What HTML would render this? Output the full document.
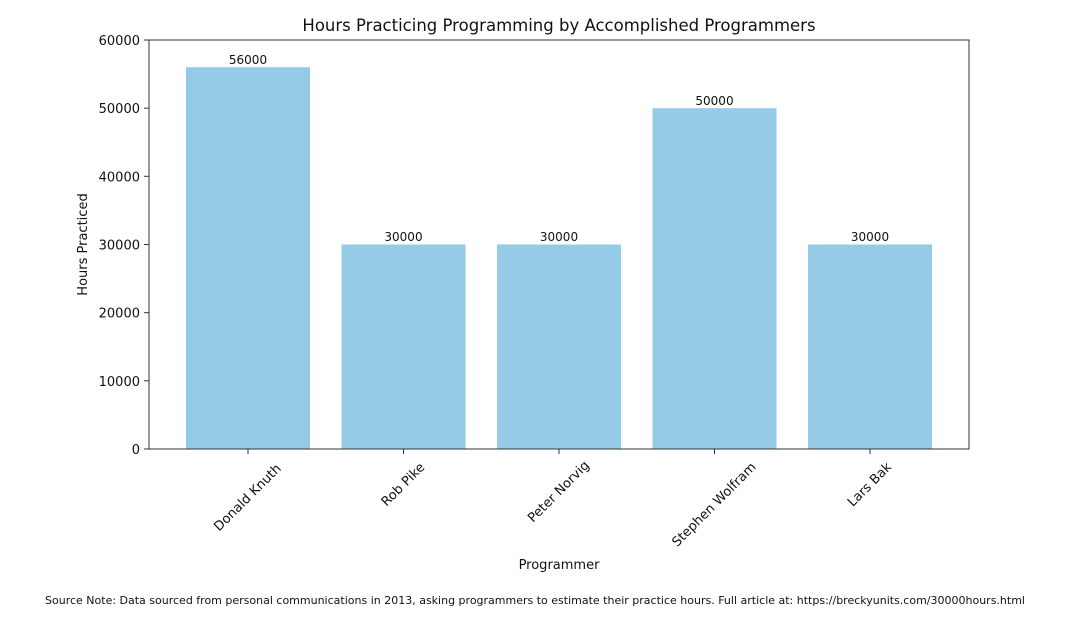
<!DOCTYPE html>
<html><head><meta charset="utf-8"><style>
body{margin:0;background:#fff}
svg{display:block;font-family:"DejaVu Sans","Liberation Sans",sans-serif}
</style></head><body>
<svg width="1068" height="638" viewBox="0 0 1068 638">
<rect width="1068" height="638" fill="#fff"/>
<text x="559" y="31" font-size="16.5" text-anchor="middle" fill="#111">Hours Practicing Programming by Accomplished Programmers</text>
<g fill="#95cbe6">
<rect x="186" y="67.2" width="124" height="381.8"/>
<rect x="341.5" y="244.5" width="124" height="204.5"/>
<rect x="497" y="244.5" width="124" height="204.5"/>
<rect x="652.5" y="108.2" width="124" height="340.8"/>
<rect x="808" y="244.5" width="124" height="204.5"/>
</g>
<g font-size="12" text-anchor="middle" fill="#111">
<text x="248" y="64">56000</text>
<text x="403.5" y="241">30000</text>
<text x="559" y="241">30000</text>
<text x="714.5" y="105">50000</text>
<text x="870" y="241">30000</text>
</g>
<rect x="149" y="40" width="820" height="409" fill="none" stroke="#333" stroke-width="1"/>
<g stroke="#333" stroke-width="1">
<line x1="144" y1="449" x2="149" y2="449"/><line x1="144" y1="380.8" x2="149" y2="380.8"/>
<line x1="144" y1="312.7" x2="149" y2="312.7"/><line x1="144" y1="244.5" x2="149" y2="244.5"/>
<line x1="144" y1="176.3" x2="149" y2="176.3"/><line x1="144" y1="108.2" x2="149" y2="108.2"/>
<line x1="144" y1="40" x2="149" y2="40"/>
<line x1="248" y1="449" x2="248" y2="454"/><line x1="403.5" y1="449" x2="403.5" y2="454"/>
<line x1="559" y1="449" x2="559" y2="454"/><line x1="714.5" y1="449" x2="714.5" y2="454"/>
<line x1="870" y1="449" x2="870" y2="454"/>
</g>
<g font-size="13" text-anchor="end" fill="#111">
<text x="140" y="454">0</text><text x="140" y="385.8">10000</text>
<text x="140" y="317.7">20000</text><text x="140" y="249.5">30000</text>
<text x="140" y="181.3">40000</text><text x="140" y="113.2">50000</text>
<text x="140" y="45">60000</text>
</g>
<g font-size="13" text-anchor="middle" fill="#111" dominant-baseline="central">
<text transform="translate(248,498) rotate(-45)">Donald Knuth</text>
<text transform="translate(403.5,485) rotate(-45)">Rob Pike</text>
<text transform="translate(559,492) rotate(-45)">Peter Norvig</text>
<text transform="translate(714.5,505) rotate(-45)">Stephen Wolfram</text>
<text transform="translate(870,485) rotate(-45)">Lars Bak</text>
</g>
<text x="559" y="569" font-size="13" text-anchor="middle" fill="#111">Programmer</text>
<text transform="translate(87,244.5) rotate(-90)" font-size="13" text-anchor="middle" fill="#111">Hours Practiced</text>
<text x="535" y="604" font-size="11" text-anchor="middle" fill="#111">Source Note: Data sourced from personal communications in 2013, asking programmers to estimate their practice hours. Full article at: https://breckyunits.com/30000hours.html</text>
</svg>
</body></html>
